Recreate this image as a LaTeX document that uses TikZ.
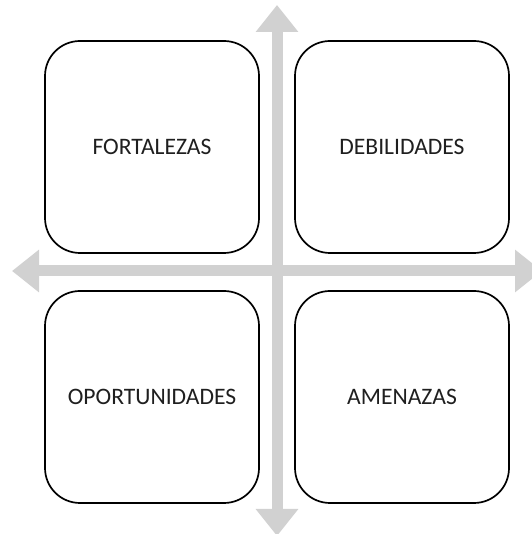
\documentclass[tikz,border=0pt]{standalone}
\usepackage{fontspec}
\setmainfont{Carlito}
\usetikzlibrary{arrows.meta}
\tikzset{
	cuadro/.style={draw, line width=1.7pt, rounded corners=35pt, fill=white,
		minimum width=214pt, minimum height=212pt,
		font=\fontsize{23.6}{28}\selectfont, text=black!88},
	eje/.style={draw=black!18, line width=11pt,
		{Triangle[length=27pt,width=41pt]}-{Triangle[length=27pt,width=41pt]}}
}

\begin{document}
\begin{tikzpicture}[x=1pt, y=1pt]
			%%%%% START %%%%%
			
			\useasboundingbox (0, 0) rectangle (531, 534);
			
			\coordinate (oeste) at (12, 263);
			\coordinate (este) at (542, 263);
			\coordinate (norte) at (277, 529);
			\coordinate (sur) at (277, -2);
			
			\draw[eje] (oeste) -- (este);
			\draw[eje] (sur) -- (norte);
			
			\node[cuadro] (fortalezas) at (152, 387) {FORTALEZAS};
			\node[cuadro] (debilidades) at (402, 387) {DEBILIDADES};
			\node[cuadro] (oportunidades) at (152, 137) {OPORTUNIDADES};
			\node[cuadro] (amenazas) at (402, 137) {AMENAZAS};
			
			%%%%% END %%%%%
		\end{tikzpicture}
\end{document}
